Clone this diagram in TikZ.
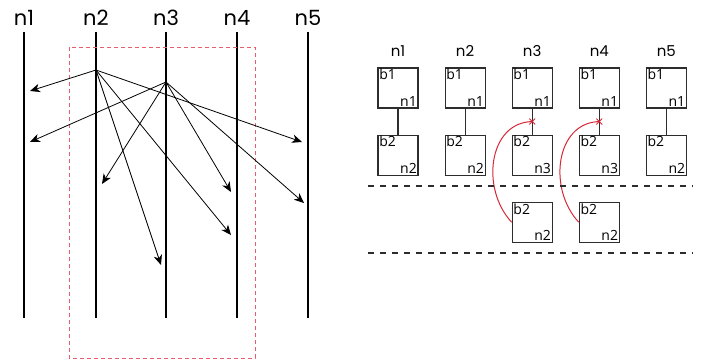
\documentclass[tikz,border=0pt]{standalone}
\usepackage{fontspec}
\setmainfont{Open Sans}
\newfontfamily\headfont{Poppins}
\usetikzlibrary{positioning, arrows.meta, shapes.misc}

\definecolor{cutred}{RGB}{215,40,55}
\definecolor{zonered}{RGB}{230,95,110}
\definecolor{inkgray}{RGB}{45,45,45}

\begin{document}
\begin{tikzpicture}[
        x=1pt, y=-1pt,
        node distance=26pt,
        wire/.style={line width=2.7pt},
        msg/.style={draw, -{Stealth[length=10pt, width=8.5pt, inset=3pt]}, line width=0.8pt},
        lanename/.style={font=\headfont\fontsize{21}{21}\selectfont, inner sep=0pt, anchor=base},
        colname/.style={font=\headfont\fontsize{15}{15}\selectfont, inner sep=0pt, anchor=base},
        tag/.style={font=\fontsize{14}{14}\selectfont, inner sep=1.6pt},
        cell/.style 2 args={
            rectangle,
            draw=inkgray,
            line width=1.1pt,
            minimum size=40pt,
            inner sep=0pt,
            label={[tag, anchor=north west]north west:#1},
            label={[tag, anchor=south east]south east:#2}
        },
        link/.style={draw=inkgray, line width=1.1pt},
        cutmark/.style={cross out, draw=cutred, line width=0.9pt, minimum size=5pt, inner sep=0pt},
        cut/.style={draw=cutred, line width=1pt},
        sep/.style={draw=inkgray, line width=1.1pt, dash pattern=on 6pt off 6pt},
        zone/.style={draw=zonered, line width=0.9pt, dash pattern=on 4pt off 3pt}
    ]
        \useasboundingbox (0,0) rectangle (702,362);

        % Lanes
        \foreach \x/\n in {24/1, 96/2, 166/3, 237/4, 308/5} {
            \node [lanename] (lane\n) at (\x,25) {n\n};
            \draw [wire] (\x,32) -- (\x,318);
        }
        \draw [zone] (69,47) rectangle (255,358);

        % Messages
        \coordinate (src2) at (96,70);
        \coordinate (src3) at (166,82);
        \coordinate (to2a) at (30,91);
        \coordinate (to2b) at (302,142);
        \coordinate (to2c) at (231,235);
        \coordinate (to2d) at (161,265);
        \coordinate (to3a) at (30,142);
        \coordinate (to3b) at (102,184);
        \coordinate (to3c) at (231,192);
        \coordinate (to3d) at (304,203);
        \foreach \t in {a,b,c,d} {
            \path [msg] (src2) -- (to2\t);
            \path [msg] (src3) -- (to3\t);
        }

        % Cells
        \node [cell={b1}{n1}] (top1) at (398,88) {};
        \node [cell={b1}{n1}, right=of top1] (top2) {};
        \node [cell={b1}{n1}, right=of top2] (top3) {};
        \node [cell={b1}{n1}, right=of top3] (top4) {};
        \node [cell={b1}{n1}, right=of top4] (top5) {};
        \node [cell={b2}{n2}, below=of top1] (mid1) {};
        \node [cell={b2}{n2}, below=of top2] (mid2) {};
        \node [cell={b2}{n3}, below=of top3] (mid3) {};
        \node [cell={b2}{n3}, below=of top4] (mid4) {};
        \node [cell={b2}{n2}, below=of top5] (mid5) {};
        \node [cell={b2}{n2}, below=of mid3] (low3) {};
        \node [cell={b2}{n2}, below=of mid4] (low4) {};
        \foreach \n in {1,...,5}
            \node [colname] (col\n) at ([yshift=11pt]top\n.north) {n\n};

        % Links
        \path [link] (top1) -- (mid1);
        \path [link] (top2) -- (mid2);
        \path [link] (top3) -- node [cutmark] (x3) {} (mid3);
        \path [link] (top4) -- node [cutmark] (x4) {} (mid4);
        \path [link] (top5) -- (mid5);
        \path [cut] (low3.west) .. controls +(-31,-33) and +(-44,1) .. (x3.center);
        \path [cut] (low4.west) .. controls +(-31,-33) and +(-44,1) .. (x4.center);

        % Separators
        \path [sep] (368,186) -- (693,186);
        \path [sep] (368,253) -- (693,253);
    \end{tikzpicture}
\end{document}
